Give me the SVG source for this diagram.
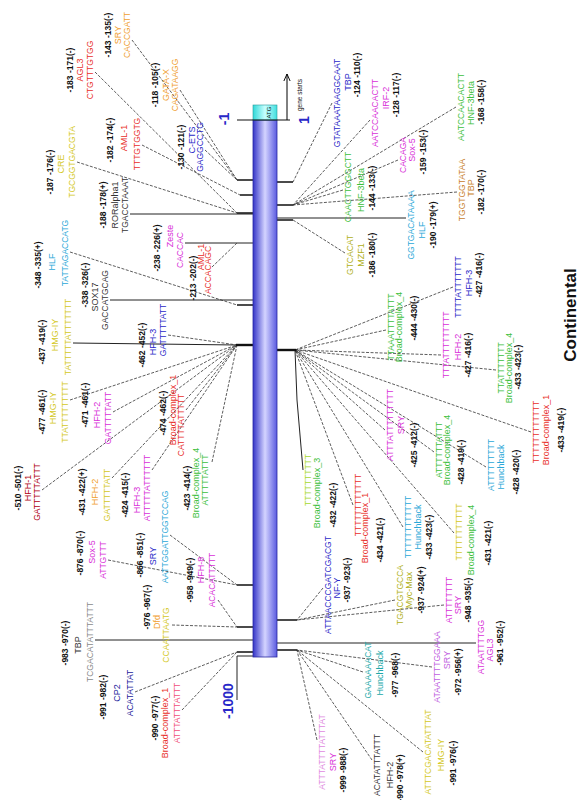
<svg xmlns="http://www.w3.org/2000/svg" width="581" height="800" viewBox="0 0 581 800">
<style>
text{font-family:"Liberation Sans",Arial,sans-serif;text-anchor:middle}
.p{font-size:8.5px;font-weight:bold;fill:#111}
.n{font-size:9px}
.s{font-size:8.5px}
.red{fill:#e8302a}.pink{fill:#f0507a}.dred{fill:#b00010}.org{fill:#f0a030}.yel{fill:#d4c81e}.olv{fill:#b0b020}
.grn{fill:#3cc03c}.lime{fill:#a8d830}.blu{fill:#2828c8}.nav{fill:#1a1a9a}.cyn{fill:#2aa8d8}.tea{fill:#20a8a8}
.mag{fill:#d830d8}.lmag{fill:#e08ae0}.pur{fill:#c060e0}.brn{fill:#c8802a}.gry{fill:#8a8a8a}.drk{fill:#333}
.ld{fill:none;stroke:#333;stroke-width:0.8;stroke-dasharray:3 1.5}
.ls{fill:none;stroke:#222;stroke-width:1}
.tk{stroke:#111;stroke-width:1.4}
.tk2{stroke:#111;stroke-width:2.4}
.big{font-size:14px;font-weight:bold;fill:#2828c8}
</style>
<defs>
<linearGradient id="barG" x1="0" y1="0" x2="1" y2="0">
<stop offset="0" stop-color="#3434c8"/><stop offset="0.5" stop-color="#d4d4ff"/><stop offset="1" stop-color="#5a5ae0"/>
</linearGradient>
<linearGradient id="atgG" x1="0" y1="0" x2="1" y2="0">
<stop offset="0" stop-color="#30d8d8"/><stop offset="0.5" stop-color="#c8ffff"/><stop offset="1" stop-color="#40dede"/>
</linearGradient>
<marker id="ah" viewBox="0 0 10 10" refX="9" refY="5" markerWidth="8" markerHeight="8" orient="auto"><path d="M0,1 L9,5 L0,9" fill="none" stroke="#000" stroke-width="1.2"/></marker>
</defs>
<rect width="581" height="800" fill="#fff"/>

<g id="connectors">
<path class="ld" d="M95,72 L237,213"/>
<path class="ld" d="M132,40 L237,180"/>
<path class="ld" d="M180,90 L237,180"/>
<path class="ld" d="M205,150 L237,180"/>
<path class="ld" d="M77,162 L237,213"/>
<path class="ld" d="M142,145 L240,195"/>
<path class="ls" d="M130,214 L253,214"/>
<path class="ls" d="M185,243 L253,243"/>
<path class="ld" d="M212,267 L237,243"/>
<path class="ld" d="M70,252 L237,305"/>
<path class="ls" d="M110,300 L253,300"/>
<path class="ls" d="M73,343 L237,345"/>
<path class="ld" d="M168,335 L237,345"/>
<path class="ld" d="M70,400 L237,345"/>
<path class="ld" d="M113,412 L237,345"/>
<path class="ld" d="M42,490 L237,345"/>
<path class="ld" d="M112,478 L237,345"/>
<path class="ld" d="M152,470 L237,345"/>
<path class="ld" d="M186,410 L237,345"/>
<path class="ld" d="M212,462 L237,345"/>
<path class="ld" d="M108,560 L237,585"/>
<path class="ld" d="M170,535 L237,585"/>
<path class="ls" d="M95,640 L253,640"/>
<path class="ld" d="M135,692 L237,652"/>
<path class="ld" d="M172,625 L237,627"/>
<path class="ld" d="M182,710 L237,652"/>
<path class="ld" d="M218,600 L237,627"/>
<path class="tk" d="M237,180 H253 M240,195 H253 M237,213 H253 M237,305 H253 M237,585 H253 M237,627 H253 M237,652 H253"/>
<path class="tk2" d="M236,345 H253"/>
<path class="ls" d="M253,656 H237 V700"/>
<path class="ld" d="M332,103 L293,182"/>
<path class="ld" d="M370,120 L293,205"/>
<path class="ld" d="M398,160 L293,205"/>
<path class="ld" d="M456,107 L293,205"/>
<path class="ld" d="M457,192 L293,205"/>
<path class="ld" d="M343,190 L293,205"/>
<path class="ld" d="M345,253 L293,220"/>
<path class="ls" d="M406,218 L277,218"/>
<path class="ld" d="M453,287 L295,350"/>
<path class="ld" d="M386,330 L295,350"/>
<path class="ld" d="M441,355 L295,350"/>
<path class="ld" d="M496,370 L295,350"/>
<path class="ld" d="M385,430 L295,350"/>
<path class="ld" d="M531,432 L295,350"/>
<path class="ld" d="M486,467 L295,350"/>
<path class="ld" d="M434,452 L295,350"/>
<path class="ld" d="M403,527 L295,350"/>
<path class="ld" d="M454,533 L295,350"/>
<path class="ls" d="M303,470 L297,400 L295,350"/>
<path class="ld" d="M353,505 L295,350"/>
<path class="ld" d="M395,600 L297,620"/>
<path class="ld" d="M444,605 L297,620"/>
<path class="ld" d="M323,588 L297,620"/>
<path class="ld" d="M363,672 L297,650"/>
<path class="ld" d="M317,740 L297,650"/>
<path class="ld" d="M372,760 L297,650"/>
<path class="ld" d="M423,752 L297,650"/>
<path class="ld" d="M432,667 L297,650"/>
<path class="ls" d="M476,643 L277,643"/>
<path class="tk" d="M277,182 H293 M277,205 H293 M277,220 H293 M277,620 H297 M277,650 H297"/>
<path class="tk2" d="M277,350 H296"/>
</g>

<g id="gene">
<rect x="253" y="120" width="24" height="537" fill="url(#barG)" stroke="#2a2aa0" stroke-width="0.8"/>
<rect x="253" y="105" width="24" height="15" fill="url(#atgG)" stroke="#2a9a9a" stroke-width="0.6"/>
<text transform="translate(271,112.5) rotate(-90)" style="font-size:6px;fill:#111">ATG</text>
<path d="M237,120 H290" stroke="#111" stroke-width="1.2"/>
<path d="M287,120 V74" stroke="#000" stroke-width="1" marker-end="url(#ah)"/>
<text transform="translate(302,95) rotate(-90)" style="font-size:6.5px;fill:#111">gene starts</text>
<text class="big" transform="translate(229,119) rotate(-90)">-1</text>
<text class="big" transform="translate(309,120) rotate(-90)">1</text>
<text class="big" transform="translate(233,701) rotate(-90)">-1000</text>
<text transform="translate(576,315) rotate(-90)" style="font-size:17px;font-weight:bold;fill:#111">Continental</text>
</g>

<g id="site-A"><text class="p" transform="translate(73,70) rotate(-90)">-183 -171(-)</text><text class="n red" transform="translate(83,70) rotate(-90)">AGL3</text><text class="s red" transform="translate(93,70) rotate(-90)">CTGTTTGTGG</text></g>
<g id="site-B"><text class="p" transform="translate(111,35) rotate(-90)">-143 -135(-)</text><text class="n org" transform="translate(121,35) rotate(-90)">SRY</text><text class="s org" transform="translate(130,35) rotate(-90)">CACCGATT</text></g>
<g id="site-C"><text class="p" transform="translate(158,85) rotate(-90)">-118 -105(-)</text><text class="n org" transform="translate(169,85) rotate(-90)">GATA-X</text><text class="s org" transform="translate(178,85) rotate(-90)">CAGATAAGG</text></g>
<g id="site-D"><text class="p" transform="translate(184,147) rotate(-90)">-130 -121(-)</text><text class="n blu" transform="translate(195,140) rotate(-90)">C-ETS</text><text class="s blu" transform="translate(203,147) rotate(-90)">GAGGCCTG</text></g>
<g id="site-E"><text class="p" transform="translate(53,172) rotate(-90)">-187 -176(-)</text><text class="n yel" transform="translate(64,164) rotate(-90)">CRE</text><text class="s yel" transform="translate(75,162) rotate(-90)">TGCGGTGACGTA</text></g>
<g id="site-F"><text class="p" transform="translate(113,140) rotate(-90)">-182 -174(-)</text><text class="n red" transform="translate(127,138) rotate(-90)">AML-1</text><text class="s red" transform="translate(140,144) rotate(-90)">TTTGTGGTG</text></g>
<g id="site-G"><text class="p" transform="translate(106,205) rotate(-90)">-188 -178(+)</text><text class="n drk" transform="translate(118,205) rotate(-90)">RORalpha1</text><text class="s drk" transform="translate(128,205) rotate(-90)">TGACCTAAAT</text></g>
<g id="site-H"><text class="p" transform="translate(160,248) rotate(-90)">-238 -226(+)</text><text class="n mag" transform="translate(173,236) rotate(-90)">Zeste</text><text class="s mag" transform="translate(183,250) rotate(-90)">CACCAC</text></g>
<g id="site-I"><text class="p" transform="translate(196,278) rotate(-90)">-213 -202(-)</text><text class="n red" transform="translate(204,257) rotate(-90)">AML-1</text><text class="s red" transform="translate(211,270) rotate(-90)">ACCACAGC</text></g>
<g id="site-J"><text class="p" transform="translate(41,265) rotate(-90)">-348 -335(+)</text><text class="n cyn" transform="translate(55,262) rotate(-90)">HLF</text><text class="s cyn" transform="translate(68,253) rotate(-90)">TATTAGACCATG</text></g>
<g id="site-K"><text class="p" transform="translate(88,285) rotate(-90)">-338 -326(-)</text><text class="n drk" transform="translate(98,297) rotate(-90)">SOX17</text><text class="s drk" transform="translate(108,300) rotate(-90)">GACCATGCAG</text></g>
<g id="site-L"><text class="p" transform="translate(45,342) rotate(-90)">-437 -419(-)</text><text class="n yel" transform="translate(58,335) rotate(-90)">HMG-IY</text><text class="s yel" transform="translate(71,337) rotate(-90)">TATTTTTATTTTTTT</text></g>
<g id="site-M"><text class="p" transform="translate(145,345) rotate(-90)">-462 -452(-)</text><text class="n blu" transform="translate(156,342) rotate(-90)">HFH-3</text><text class="s blu" transform="translate(166,330) rotate(-90)">GATTTTTATT</text></g>
<g id="site-N"><text class="p" transform="translate(45,412) rotate(-90)">-477 -461(-)</text><text class="n yel" transform="translate(56,408) rotate(-90)">HMG-IY</text><text class="s yel" transform="translate(68,412) rotate(-90)">TTATTTTTTTTT</text></g>
<g id="site-N2"><text class="p" transform="translate(88,405) rotate(-90)">-471 -461(-)</text><text class="n mag" transform="translate(100,415) rotate(-90)">HFH-2</text><text class="s mag" transform="translate(111,418) rotate(-90)">GATTTTTATT</text></g>
<g id="site-O"><text class="p" transform="translate(21,488) rotate(-90)">-510 -501(-)</text><text class="n dred" transform="translate(31,488) rotate(-90)">HFH-1</text><text class="s dred" transform="translate(40,492) rotate(-90)">GATTTTTATTT</text></g>
<g id="site-P"><text class="p" transform="translate(85,492) rotate(-90)">-431 -422(+)</text><text class="n org" transform="translate(98,492) rotate(-90)">HFH-2</text><text class="s yel" transform="translate(110,495) rotate(-90)">GATTTTTATT</text></g>
<g id="site-Q"><text class="p" transform="translate(128,495) rotate(-90)">-424 -415(-)</text><text class="n mag" transform="translate(140,500) rotate(-90)">HFH-3</text><text class="s mag" transform="translate(150,488) rotate(-90)">ATTTTTATTTTTT</text></g>
<g id="site-R"><text class="p" transform="translate(166,413) rotate(-90)">-474 -462(-)</text><text class="n red" transform="translate(176,410) rotate(-90)">Broad-complex_1</text><text class="s red" transform="translate(184,425) rotate(-90)">CATTTTATTTTT</text></g>
<g id="site-S"><text class="p" transform="translate(190,488) rotate(-90)">-423 -414(-)</text><text class="n grn" transform="translate(199,483) rotate(-90)">Broad-complex_4</text><text class="s grn" transform="translate(208,480) rotate(-90)">ATTTTTATTT</text></g>
<g id="site-T"><text class="p" transform="translate(83,553) rotate(-90)">-876 -870(-)</text><text class="n mag" transform="translate(95,552) rotate(-90)">Sox-5</text><text class="s mag" transform="translate(106,560) rotate(-90)">ATTGTTT</text></g>
<g id="site-U"><text class="p" transform="translate(143,555) rotate(-90)">-866 -851(-)</text><text class="n blu" transform="translate(156,556) rotate(-90)">SRY</text><text class="s cyn" transform="translate(168,537) rotate(-90)">AATTGGATTGGTCCAG</text></g>
<g id="site-V"><text class="p" transform="translate(68,643) rotate(-90)">-983 -970(-)</text><text class="n drk" transform="translate(81,645) rotate(-90)">TBP</text><text class="s gry" transform="translate(93,642) rotate(-90)">TCGACATATTTATTT</text></g>
<g id="site-W"><text class="p" transform="translate(106,697) rotate(-90)">-991 -982(-)</text><text class="n nav" transform="translate(120,693) rotate(-90)">CP2</text><text class="s nav" transform="translate(133,693) rotate(-90)">ACATATTAT</text></g>
<g id="site-X"><text class="p" transform="translate(150,607) rotate(-90)">-976 -967(-)</text><text class="n org" transform="translate(160,622) rotate(-90)">Dfd</text><text class="s yel" transform="translate(169,635) rotate(-90)">CCAATTAATG</text></g>
<g id="site-Y"><text class="p" transform="translate(158,718) rotate(-90)">-990 -977(-)</text><text class="n red" transform="translate(168,723) rotate(-90)">Broad-complex_1</text><text class="s pink" transform="translate(180,713) rotate(-90)">ATTTATTTATTT</text></g>
<g id="site-Z"><text class="p" transform="translate(193,580) rotate(-90)">-958 -949(-)</text><text class="n mag" transform="translate(204,570) rotate(-90)">HFH-8</text><text class="s mag" transform="translate(215,580) rotate(-90)">ACACATTTTT</text></g>

<g id="site-a"><text class="s blu" transform="translate(340,103) rotate(-90)">GTATAAATAAGGCAAT</text><text class="n blu" transform="translate(351,82) rotate(-90)">TBP</text><text class="p" transform="translate(360,75) rotate(-90)">-124 -110(-)</text></g>
<g id="site-b"><text class="s mag" transform="translate(378,113) rotate(-90)">AATCCAACACTT</text><text class="n mag" transform="translate(389,98) rotate(-90)">IRF-2</text><text class="p" transform="translate(399,95) rotate(-90)">-128 -117(-)</text></g>
<g id="site-c"><text class="s mag" transform="translate(406,155) rotate(-90)">CACAGA</text><text class="n mag" transform="translate(415,150) rotate(-90)">Sox-5</text><text class="p" transform="translate(426,152) rotate(-90)">-159 -153(-)</text></g>
<g id="site-d"><text class="s grn" transform="translate(464,107) rotate(-90)">AATCCAACACTT</text><text class="n grn" transform="translate(474,103) rotate(-90)">HNF-3beta</text><text class="p" transform="translate(484,102) rotate(-90)">-168 -158(-)</text></g>
<g id="site-e"><text class="s brn" transform="translate(465,190) rotate(-90)">TGGTGGTATAA</text><text class="n brn" transform="translate(474,188) rotate(-90)">TBP</text><text class="p" transform="translate(484,192) rotate(-90)">-182 -170(-)</text></g>
<g id="site-f"><text class="s grn" transform="translate(351,187) rotate(-90)">CAACTTGGGCTT</text><text class="n grn" transform="translate(364,190) rotate(-90)">HNF-3beta</text><text class="p" transform="translate(375,188) rotate(-90)">-144 -133(-)</text></g>
<g id="site-g"><text class="s olv" transform="translate(353,255) rotate(-90)">GTCACAT</text><text class="n olv" transform="translate(364,255) rotate(-90)">MZF1</text><text class="p" transform="translate(375,255) rotate(-90)">-186 -180(-)</text></g>
<g id="site-h"><text class="s cyn" transform="translate(414,225) rotate(-90)">GGTGACATAAAA</text><text class="n cyn" transform="translate(425,230) rotate(-90)">HLF</text><text class="p" transform="translate(436,225) rotate(-90)">-190 -179(+)</text></g>
<g id="site-i"><text class="s blu" transform="translate(461,287) rotate(-90)">TTTTATTTTTTT</text><text class="n blu" transform="translate(472,283) rotate(-90)">HFH-3</text><text class="p" transform="translate(482,275) rotate(-90)">-427 -416(-)</text></g>
<g id="site-j"><text class="s grn" transform="translate(394,327) rotate(-90)">TTAAATTTTATTT</text><text class="n grn" transform="translate(402,327) rotate(-90)">Broad-complex_4</text><text class="p" transform="translate(417,318) rotate(-90)">-444 -430(-)</text></g>
<g id="site-k"><text class="s mag" transform="translate(449,345) rotate(-90)">TTTATTTTTTTTT</text><text class="n mag" transform="translate(461,347) rotate(-90)">HFH-2</text><text class="p" transform="translate(471,355) rotate(-90)">-427 -416(-)</text></g>
<g id="site-l"><text class="s grn" transform="translate(504,368) rotate(-90)">TTATTTTTTT</text><text class="n grn" transform="translate(512,368) rotate(-90)">Broad-complex_4</text><text class="p" transform="translate(521,367) rotate(-90)">-433 -423(-)</text></g>
<g id="site-m"><text class="s mag" transform="translate(393,425) rotate(-90)">ATTTATTTTTTTTT</text><text class="n mag" transform="translate(404,425) rotate(-90)">SRY</text><text class="p" transform="translate(417,445) rotate(-90)">-425 -412(-)</text></g>
<g id="site-n"><text class="s red" transform="translate(539,432) rotate(-90)">TTTTTTTTTTTT</text><text class="n red" transform="translate(549,430) rotate(-90)">Broad-complex_1</text><text class="p" transform="translate(564,430) rotate(-90)">-433 -419(-)</text></g>
<g id="site-o"><text class="s cyn" transform="translate(494,465) rotate(-90)">ATTTTTTTTT</text><text class="n cyn" transform="translate(504,467) rotate(-90)">Hunchback</text><text class="p" transform="translate(519,472) rotate(-90)">-428 -420(-)</text></g>
<g id="site-p"><text class="s grn" transform="translate(442,450) rotate(-90)">ATTTTTTATTT</text><text class="n grn" transform="translate(450,450) rotate(-90)">Broad-complex_4</text><text class="p" transform="translate(464,462) rotate(-90)">-428 -419(-)</text></g>
<g id="site-r"><text class="s cyn" transform="translate(411,527) rotate(-90)">TTTTTTTTTTTT</text><text class="n cyn" transform="translate(421,527) rotate(-90)">Hunchback</text><text class="p" transform="translate(432,537) rotate(-90)">-433 -423(-)</text></g>
<g id="site-s"><text class="s yel" transform="translate(462,532) rotate(-90)">TTTTTTTTTTT</text><text class="n grn" transform="translate(474,540) rotate(-90)">Broad-complex_4</text><text class="p" transform="translate(491,543) rotate(-90)">-431 -421(-)</text></g>
<g id="site-t"><text class="s olv" transform="translate(403,595) rotate(-90)">TGACGTGCCA</text><text class="n olv" transform="translate(412,590) rotate(-90)">Myc-Max</text><text class="p" transform="translate(424,590) rotate(-90)">-937 -924(+)</text></g>
<g id="site-u"><text class="s mag" transform="translate(452,600) rotate(-90)">ATTTTTTTT</text><text class="n mag" transform="translate(461,605) rotate(-90)">SRY</text><text class="p" transform="translate(471,600) rotate(-90)">-948 -935(-)</text></g>
<g id="site-v"><text class="s lime" transform="translate(311,480) rotate(-90)">TTTTTTTTTT</text><text class="n grn" transform="translate(320,493) rotate(-90)">Broad-complex_3</text><text class="p" transform="translate(336,505) rotate(-90)">-432 -422(-)</text></g>
<g id="site-w"><text class="s red" transform="translate(361,505) rotate(-90)">TTTTTTTTTTTT</text><text class="n red" transform="translate(368,528) rotate(-90)">Broad-complex_1</text><text class="p" transform="translate(383,540) rotate(-90)">-434 -421(-)</text></g>
<g id="site-x"><text class="s blu" transform="translate(331,585) rotate(-90)">ATTAACCCGATCGACGT</text><text class="n blu" transform="translate(340,588) rotate(-90)">NF-Y</text><text class="p" transform="translate(350,580) rotate(-90)">-937 -923(-)</text></g>
<g id="site-y"><text class="s tea" transform="translate(371,670) rotate(-90)">GAAAAAACAT</text><text class="n tea" transform="translate(383,673) rotate(-90)">Hunchback</text><text class="p" transform="translate(398,675) rotate(-90)">-977 -968(-)</text></g>
<g id="site-z"><text class="s lmag" transform="translate(325,752) rotate(-90)">ATTTATTTTATTTAT</text><text class="n mag" transform="translate(336,762) rotate(-90)">SRY</text><text class="p" transform="translate(346,770) rotate(-90)">-999 -988(-)</text></g>
<g id="site-aa"><text class="s drk" transform="translate(380,765) rotate(-90)">ACATATTTATTT</text><text class="n drk" transform="translate(393,775) rotate(-90)">HFH-2</text><text class="p" transform="translate(403,778) rotate(-90)">-990 -978(+)</text></g>
<g id="site-bb"><text class="s yel" transform="translate(431,752) rotate(-90)">ATTTCGACATATTTAT</text><text class="n yel" transform="translate(444,755) rotate(-90)">HMG-IY</text><text class="p" transform="translate(456,763) rotate(-90)">-991 -976(-)</text></g>
<g id="site-cc"><text class="s pur" transform="translate(440,667) rotate(-90)">ATAATTTTGGAAA</text><text class="n pur" transform="translate(450,660) rotate(-90)">SRY</text><text class="p" transform="translate(461,672) rotate(-90)">-972 -956(+)</text></g>
<g id="site-dd"><text class="s mag" transform="translate(484,647) rotate(-90)">ATAATTTTGG</text><text class="n mag" transform="translate(493,650) rotate(-90)">AGL3</text><text class="p" transform="translate(503,643) rotate(-90)">-961 -952(-)</text></g>
</svg>
